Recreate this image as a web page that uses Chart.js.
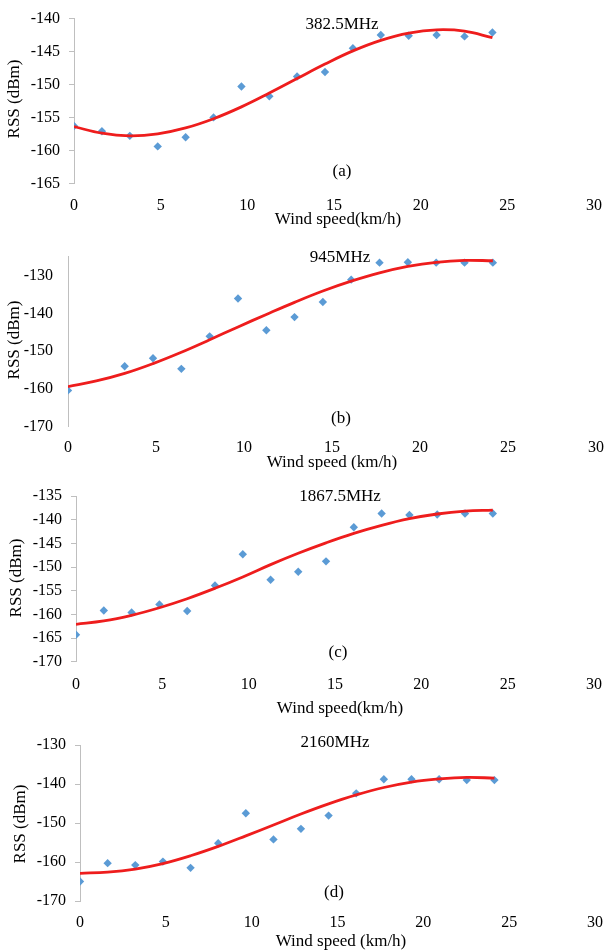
<!DOCTYPE html>
<html>
<head>
<meta charset="utf-8">
<script src="https://cdn.jsdelivr.net/npm/chart.js@4.4.1/dist/chart.umd.min.js"></script>
<style>
  html, body { margin: 0; padding: 0; background: #fff; width: 615px; height: 951px; overflow: hidden; }
  .panel { position: absolute; left: 0; width: 615px; }
</style>
</head>
<body>
<div class="panel" style="top:0px;height:232px"><canvas id="chartA"></canvas></div>
<div class="panel" style="top:232px;height:238px"><canvas id="chartB"></canvas></div>
<div class="panel" style="top:470px;height:250px"><canvas id="chartC"></canvas></div>
<div class="panel" style="top:720px;height:231px"><canvas id="chartD"></canvas></div>
<script>
// ── DATA ──
// wind speed steps (km/h), 1 mph apart
const windSpeed = [0, 1.61, 3.22, 4.83, 6.44, 8.05, 9.66, 11.27, 12.87, 14.48, 16.09, 17.70, 19.31, 20.92, 22.53, 24.14];
const xTicks = [0, 5, 10, 15, 20, 25, 30];

const rss382 = [-156.3, -157.1, -157.8, -159.4, -158.0, -155.0, -150.3, -151.8, -148.8, -148.1, -144.5, -142.5, -142.6, -142.5, -142.7, -142.1];
const fit382 = [-156.4, -157.4, -157.8, -157.5, -156.6, -155.2, -153.4, -151.3, -149.1, -146.9, -144.9, -143.3, -142.2, -141.7, -141.9, -142.9];

const rss945 = [-160.4, null, -154.0, -151.9, -154.7, -146.1, -136.1, -144.5, -141.0, -137.0, -131.1, -126.6, -126.5, -126.6, -126.6, -126.6];
const fit945 = [-159.4, -157.9, -155.9, -153.3, -150.3, -147.0, -143.6, -140.3, -137.1, -134.1, -131.5, -129.3, -127.6, -126.5, -126.0, -126.1];

const rss1867 = [-164.3, -159.2, -159.6, -157.9, -159.3, -153.9, -147.3, -152.7, -151.0, -148.8, -141.6, -138.7, -139.0, -138.9, -138.7, -138.7];
const fit1867 = [-162.1, -161.4, -160.2, -158.6, -156.7, -154.5, -152.1, -149.5, -147.1, -144.9, -142.9, -141.2, -139.8, -138.8, -138.2, -138.0];

const rss2160 = [-165.0, -160.3, -160.8, -159.9, -161.5, -155.2, -147.5, -154.2, -151.5, -148.1, -142.4, -138.8, -138.8, -138.8, -139.0, -139.0];
const fit2160 = [-162.9, -162.6, -161.8, -160.4, -158.4, -156.0, -153.3, -150.5, -147.7, -145.1, -142.8, -140.9, -139.5, -138.7, -138.3, -138.5];

// ── PANELS ──
const panels = [
  { id: 'chartA', top: 0, height: 232, area: { l: 74, r: 603, t: 15, b: 183.3 },
    y: { min: -165, max: -140, step: 5 }, ticks: true, xPad: 13,
    rss: rss382, fit: fit382,
    texts: [
      { text: '382.5MHz', x: 342, y: 25 },
      { text: '(a)', x: 342, y: 172 },
      { text: 'Wind speed(km/h)', x: 338, y: 220 },
      { text: 'RSS (dBm)', x: 15, y: 99, rot: true }
    ] },
  { id: 'chartB', top: 232, height: 238, area: { l: 68, r: 603, t: 253, b: 426.7 },
    y: { min: -170, max: -125, step: 10 }, ticks: false, xPad: 11,
    rss: rss945, fit: fit945,
    texts: [
      { text: '945MHz', x: 340, y: 258 },
      { text: '(b)', x: 341, y: 419 },
      { text: 'Wind speed (km/h)', x: 332, y: 463 },
      { text: 'RSS (dBm)', x: 15, y: 340, rot: true }
    ] },
  { id: 'chartC', top: 470, height: 250, area: { l: 76, r: 603, t: 496, b: 661.7 },
    y: { min: -170, max: -135, step: 5 }, ticks: true, xPad: 13,
    rss: rss1867, fit: fit1867,
    texts: [
      { text: '1867.5MHz', x: 340, y: 497 },
      { text: '(c)', x: 338, y: 653 },
      { text: 'Wind speed(km/h)', x: 340, y: 709 },
      { text: 'RSS (dBm)', x: 17, y: 578, rot: true }
    ] },
  { id: 'chartD', top: 720, height: 231, area: { l: 80, r: 603, t: 745, b: 901 },
    y: { min: -170, max: -130, step: 10 }, ticks: true, xPad: 12,
    rss: rss2160, fit: fit2160,
    texts: [
      { text: '2160MHz', x: 335, y: 743 },
      { text: '(d)', x: 334, y: 893 },
      { text: 'Wind speed (km/h)', x: 341, y: 942 },
      { text: 'RSS (dBm)', x: 21, y: 824, rot: true }
    ] }
];

Chart.defaults.font.family = '"Liberation Serif", "Times New Roman", serif';
Chart.defaults.font.size = 16;
Chart.defaults.color = '#000';

// draws the free text of a panel (frequency, letter, axis titles)
const panelText = {
  id: 'panelText',
  afterDraw(chart, args, opts) {
    const ctx = chart.ctx;
    ctx.save();
    ctx.fillStyle = '#000';
    ctx.textAlign = 'center';
    ctx.textBaseline = 'middle';
    ctx.font = '17px "Liberation Serif", "Times New Roman", serif';
    opts.items.forEach(it => {
      ctx.save();
      ctx.translate(it.x, it.y - opts.top);
      if (it.rot) ctx.rotate(-Math.PI / 2);
      ctx.fillText(it.text, 0, 0);
      ctx.restore();
    });
    ctx.restore();
  }
};

const X_SCALE_H = 40;

panels.forEach(p => {
  const pts = windSpeed.map((x, i) => ({ x: x, y: p.rss[i] })).filter(d => d.y !== null);
  const curve = windSpeed.map((x, i) => ({ x: x, y: p.fit[i] }));

  new Chart(document.getElementById(p.id), {
    type: 'scatter',
    data: {
      datasets: [{
        type: 'line',
        data: curve,
        borderColor: '#ee1d1d',
        borderWidth: 2.8,
        pointRadius: 0,
        tension: 0.4,
        fill: false
      }, {
        data: pts,
        pointStyle: 'rectRot',
        pointRadius: 4.2,
        backgroundColor: '#5b9bd5',
        borderColor: '#5b9bd5',
        borderWidth: 0
      }]
    },
    options: {
      responsive: true,
      maintainAspectRatio: false,
      animation: false,
      events: [],
      layout: {
        padding: {
          top: p.area.t - p.top,
          left: 0,
          right: 615 - p.area.r,
          bottom: p.height - (p.area.b - p.top) - X_SCALE_H
        }
      },
      plugins: {
        legend: { display: false },
        tooltip: { enabled: false },
        panelText: { items: p.texts, top: p.top }
      },
      scales: {
        x: {
          type: 'linear', min: 0, max: 30,
          afterFit: s => { s.height = X_SCALE_H; },
          afterBuildTicks: s => { s.ticks = xTicks.map(v => ({ value: v })); },
          grid: { display: false, drawTicks: false },
          border: { display: false },
          ticks: { padding: p.xPad, color: '#000', maxRotation: 0 }
        },
        y: {
          type: 'linear', min: p.y.min, max: p.y.max,
          afterFit: s => { s.width = p.area.l; },
          afterBuildTicks: s => { s.ticks = s.ticks.filter(t => t.value % p.y.step === 0); },
          grid: { drawOnChartArea: false, drawTicks: p.ticks, tickLength: 5, color: '#bfbfbf' },
          border: { display: true, color: '#bfbfbf', width: 1 },
          ticks: { stepSize: p.y.step, padding: p.ticks ? 9 : 15, color: '#000' }
        }
      }
    },
    plugins: [panelText]
  });
});
</script>
</body>
</html>
